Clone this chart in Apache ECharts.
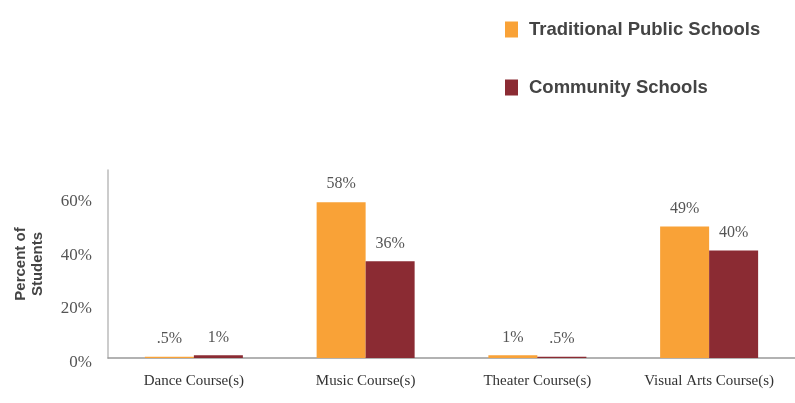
<!DOCTYPE html>
<html>
<head>
<meta charset="utf-8">
<script src="https://cdn.jsdelivr.net/npm/echarts@6/dist/echarts.min.js"></script>
<style>
  html, body { margin: 0; padding: 0; background: #fff; }
  #chart { width: 795px; height: 403px; }
</style>
</head>
<body>
<div id="chart"></div>
<script>
var courses = ['Dance Course(s)', 'Music Course(s)', 'Theater Course(s)', 'Visual Arts Course(s)'];
var traditional = [0.5, 58, 1, 49];
var community = [1, 36, 0.5, 40];
var yTicks = [0, 20, 40, 60];

var chart = echarts.init(document.getElementById('chart'));

function pct(v) {
    return String(v).replace(/^0\./, '.') + '%';
}

var labelStyle = {
    show: true,
    position: 'top',
    distance: 10,
    fontFamily: 'Liberation Serif',
    fontSize: 16,
    color: '#555',
    formatter: function (p) { return pct(p.value); }
};

var option = {
    animation: false,
    legend: {
        orient: 'vertical',
        left: 500,
        top: 15,
        itemWidth: 13,
        itemHeight: 16,
        itemGap: 39,
        icon: 'rect',
        textStyle: {
            fontFamily: 'Liberation Sans',
            fontWeight: 'bold',
            fontSize: 18.5,
            color: '#444',
            padding: [0, 0, 0, 6]
        },
        data: ['Traditional Public Schools', 'Community Schools']
    },
    grid: {
        left: 108,
        top: 170,
        width: 690,
        bottom: 45
    },
    xAxis: {
        type: 'category',
        data: courses,
        axisLine: { lineStyle: { color: '#999', width: 1.5 } },
        axisTick: { show: false },
        axisLabel: {
            margin: 16,
            fontFamily: 'Liberation Serif',
            fontSize: 15,
            color: '#333'
        }
    },
    yAxis: {
        type: 'value',
        min: 0,
        max: 70,
        interval: 20,
        name: 'Percent of\nStudents',
        nameLocation: 'middle',
        nameRotate: 90,
        nameGap: 62,
        nameTextStyle: {
            fontFamily: 'Liberation Sans',
            fontWeight: 'bold',
            fontSize: 15,
            color: '#444',
            lineHeight: 17
        },
        axisLine: { show: true, lineStyle: { color: '#bbb', width: 1.5 } },
        axisTick: { show: false },
        splitLine: { show: false },
        axisLabel: {
            showMaxLabel: false,
            margin: 16,
            fontFamily: 'Liberation Serif',
            fontSize: 17,
            color: '#555',
            verticalAlign: 'top',
            padding: [-4, 0, 0, 0],
            formatter: function (v) { return yTicks.indexOf(v) >= 0 ? v + '%' : ''; }
        }
    },
    series: [
        {
            name: 'Traditional Public Schools',
            type: 'bar',
            data: traditional,
            barWidth: 49,
            barGap: '0%',
            itemStyle: { color: '#F9A237' },
            label: labelStyle
        },
        {
            name: 'Community Schools',
            type: 'bar',
            data: community,
            barWidth: 49,
            itemStyle: { color: '#8B2B33' },
            label: labelStyle
        }
    ]
};

chart.setOption(option);
</script>
</body>
</html>
